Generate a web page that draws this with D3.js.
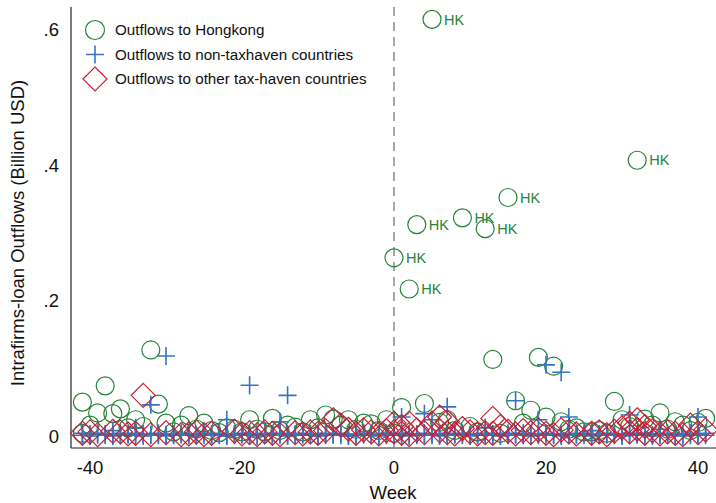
<!DOCTYPE html>
<html>
<head>
<meta charset="utf-8">
<script src="https://cdn.jsdelivr.net/npm/d3@7"></script>
<style>
  html, body { margin: 0; padding: 0; background: #fff; }
  svg { display: block; font-family: "Liberation Sans", Arial, sans-serif; }
</style>
</head>
<body>
<svg id="chart" width="716" height="503"></svg>
<script>
// Weekly intrafirm-loan outflows, [week, value in billion USD]
const hongkong = [
  [5, .615], [32, .407], [15, .352], [9, .322], [3, .312], [12, .306], [0, .263], [2, .217],
  [-41, .050], [-38, .074], [-39, .034], [-37, .033], [-36, .040], [-34, .024], [-33, .014],
  [-32, .127], [-31, .047], [-30, .019], [-28, .016], [-27, .030], [-25, .019], [-23, .005],
  [-40, .016], [-19, .024], [-16, .026], [-14, .016], [-13, .013], [-11, .024], [-9, .031],
  [-8, .025], [-6, .024], [-4, .019], [-3, .018], [-1, .024], [1, .042], [4, .048],
  [13, .113], [16, .052], [18, .038], [19, .116], [20, .028], [21, .103], [17, .019],
  [10, .014], [7, .024], [22, .021], [25, .006], [29, .051], [30, .024], [33, .025],
  [35, .034], [37, .021], [41, .026], [-35, .012], [-21, .010], [-17, .006], [-10, .012],
  [-7, .016], [-5, .010], [-2, .008], [6, .020], [8, .008], [11, .006], [14, .004],
  [23, .010], [24, .012], [26, .006], [27, .008], [31, .014], [34, .016], [36, .010],
  [38, .016], [39, .008], [40, .020], [-29, .006], [-26, .010], [-24, .008], [-22, .012],
  [-20, .006], [-18, .010], [-15, .008], [-12, .006], [28, .004], [-41, .004], [0, .004]
];

const nonTaxhaven = [
  [-30, .118], [-32, .046], [-19, .075], [-14, .060], [-15, .021], [-22, .024], [-34, .012],
  [-37, .008], [1, .028], [4, .033], [5, .024], [7, .043], [16, .052], [19, .024],
  [20, .105], [22, .094], [23, .028], [31, .031], [40, .028], [35, .010], [12, .012], [26, .008],
  [-41, .001], [-41, .004], [-40, .000], [-40, .003], [-39, .002], [-39, .004], [-38, .001],
  [-38, .003], [-37, .000], [-37, .002], [-36, .001], [-36, .004], [-35, .002], [-35, .003],
  [-34, .001], [-34, .004], [-33, .000], [-33, .003], [-32, .002], [-32, .001], [-31, .001],
  [-31, .004], [-30, .000], [-30, .002], [-29, .001], [-29, .003], [-28, .002], [-28, .004],
  [-27, .001], [-27, .003], [-26, .000], [-26, .002], [-25, .001], [-25, .004], [-24, .002],
  [-24, .003], [-23, .001], [-23, .004], [-22, .000], [-22, .002], [-21, .001], [-21, .003],
  [-20, .002], [-20, .004], [-19, .001], [-19, .003], [-18, .000], [-18, .002], [-17, .001],
  [-17, .004], [-16, .002], [-16, .003], [-15, .001], [-15, .004], [-14, .000], [-14, .002],
  [-13, .001], [-13, .003], [-12, .002], [-12, .004], [-11, .001], [-11, .003], [-10, .000],
  [-10, .002], [-9, .001], [-9, .004], [-8, .002], [-8, .003], [-7, .001], [-7, .004],
  [-6, .000], [-6, .002], [-5, .001], [-5, .003], [-4, .002], [-4, .004], [-3, .001],
  [-3, .003], [-2, .000], [-2, .002], [-1, .001], [-1, .004], [0, .002], [0, .003],
  [1, .001], [1, .004], [2, .000], [2, .002], [3, .001], [3, .003], [4, .002], [4, .004],
  [5, .001], [5, .003], [6, .000], [6, .002], [7, .001], [7, .004], [8, .002], [8, .003],
  [9, .001], [9, .004], [10, .000], [10, .002], [11, .001], [11, .003], [12, .002],
  [12, .004], [13, .001], [13, .003], [14, .000], [14, .002], [15, .001], [15, .004],
  [16, .002], [16, .003], [17, .001], [17, .004], [18, .000], [18, .002], [19, .001],
  [19, .003], [20, .002], [20, .004], [21, .001], [21, .003], [22, .000], [22, .002],
  [23, .001], [23, .004], [24, .002], [24, .003], [25, .001], [25, .004], [26, .000],
  [26, .002], [27, .001], [27, .003], [28, .002], [28, .004], [29, .001], [29, .003],
  [30, .000], [30, .002], [31, .001], [31, .004], [32, .002], [32, .003], [33, .001],
  [33, .004], [34, .000], [34, .002], [35, .001], [35, .003], [36, .002], [36, .004],
  [37, .001], [37, .003], [38, .000], [38, .002], [39, .001], [39, .004], [40, .002],
  [40, .003], [41, .001], [41, .004]
];

const otherTaxHaven = [
  [-33, .060], [-41, .004], [-40, .006], [-39, .002], [-37, .007], [-36, .006], [-35, .003],
  [-34, .004], [-32, .002], [-30, .005], [-28, .002], [-27, .003], [-26, .006], [-25, .002],
  [-24, .004], [-21, .007], [-20, .003], [-19, .005], [-18, .002], [-17, .006], [-16, .004],
  [-15, .002], [-13, .005], [-12, .003], [-11, .006], [-10, .004], [-9, .008], [-8, .024],
  [-7, .016], [-6, .010], [-5, .004], [-4, .009], [-3, .006], [-2, .003], [-1, .008],
  [0, .019], [0, .006], [1, .014], [1, .004], [2, .019], [2, .002], [3, .009], [4, .005],
  [5, .019], [6, .028], [6, .008], [7, .021], [7, .005], [8, .003], [9, .011], [10, .006],
  [11, .003], [12, .005], [13, .026], [13, .004], [14, .014], [15, .007], [16, .003],
  [17, .008], [18, .005], [19, .009], [20, .004], [21, .002], [22, .009], [23, .006],
  [24, .003], [26, .004], [27, .006], [28, .002], [29, .007], [30, .012], [31, .019],
  [31, .006], [32, .024], [32, .010], [33, .014], [33, .004], [34, .008], [35, .003],
  [36, .006], [37, .004], [38, .002], [39, .016], [40, .005], [41, .009]
];

// Points carrying an "HK" tag
const hkLabelled = [[5, .615], [32, .407], [15, .352], [9, .322], [3, .312], [12, .306], [0, .263], [2, .217]];

const xTicks = [-40, -20, 0, 20, 40];
const yTicks = [0, .2, .4, .6];
const yTickLabels = ["0", ".2", ".4", ".6"];
const legendLabels = [
  "Outflows to Hongkong",
  "Outflows to non-taxhaven countries",
  "Outflows to other tax-haven countries"
];

const GREEN = "#26843a", BLUE = "#3474c0", RED = "#c42236";

const svg = d3.select("#chart");
const x = d3.scaleLinear().domain([-40, 40]).range([90, 698]);
const y = d3.scaleLinear().domain([0, 0.6]).range([436, 29.5]);
const plotLeft = 71, plotBottom = 448, plotTop = 7, plotRight = 716;

// axis lines
svg.append("line").attr("x1", plotLeft).attr("x2", plotLeft)
  .attr("y1", plotTop).attr("y2", plotBottom).attr("stroke", "#222").attr("stroke-width", 1.2);
svg.append("line").attr("x1", plotLeft).attr("x2", plotRight)
  .attr("y1", plotBottom).attr("y2", plotBottom).attr("stroke", "#222").attr("stroke-width", 1.2);

// tick labels
svg.append("g").selectAll("text").data(yTicks).join("text")
  .attr("x", 59).attr("y", d => y(d)).attr("dy", "0.36em")
  .attr("text-anchor", "end").attr("font-size", 18.5).attr("fill", "#111")
  .text((d, i) => yTickLabels[i]);
svg.append("g").selectAll("text").data(xTicks).join("text")
  .attr("x", d => x(d)).attr("y", 473.5)
  .attr("text-anchor", "middle").attr("font-size", 18.5).attr("fill", "#111")
  .text(d => d);

// axis titles
svg.append("text").attr("x", 393).attr("y", 499).attr("text-anchor", "middle")
  .attr("font-size", 18.5).attr("fill", "#111").text("Week");
svg.append("text").attr("transform", "translate(24,233) rotate(-90)")
  .attr("text-anchor", "middle").attr("font-size", 18.5).attr("fill", "#111")
  .text("Intrafirms-loan Outflows (Billion USD)");

// event line at week 0
svg.append("line").attr("x1", x(0)).attr("x2", x(0)).attr("y1", plotTop).attr("y2", plotBottom)
  .attr("stroke", "#8a8a8a").attr("stroke-width", 1.5).attr("stroke-dasharray", "9,6");

const R = 9, P = 9, D = 12;
const plusPath = `M${-P},0H${P}M0,${-P}V${P}`;
const diamondPath = `M0,${-D}L${D},0L0,${D}L${-D},0Z`;

svg.append("g").selectAll("circle").data(hongkong).join("circle")
  .attr("cx", d => x(d[0])).attr("cy", d => y(d[1])).attr("r", R)
  .attr("fill", "none").attr("stroke", GREEN).attr("stroke-width", 1.2);

svg.append("g").selectAll("path").data(nonTaxhaven).join("path")
  .attr("transform", d => `translate(${x(d[0])},${y(d[1])})`)
  .attr("d", plusPath).attr("fill", "none").attr("stroke", BLUE).attr("stroke-width", 1.6);

svg.append("g").selectAll("path").data(otherTaxHaven).join("path")
  .attr("transform", d => `translate(${x(d[0])},${y(d[1])})`)
  .attr("d", diamondPath).attr("fill", "none").attr("stroke", RED).attr("stroke-width", 1.2);

svg.append("g").selectAll("text").data(hkLabelled).join("text")
  .attr("x", d => x(d[0]) + 12).attr("y", d => y(d[1])).attr("dy", "0.36em")
  .attr("font-size", 14.5).attr("fill", GREEN).text("HK");

// legend
const lg = svg.append("g");
const rows = [30, 54.5, 79];
lg.append("circle").attr("cx", 95).attr("cy", rows[0]).attr("r", 9.5)
  .attr("fill", "none").attr("stroke", GREEN).attr("stroke-width", 1.2);
lg.append("path").attr("transform", `translate(95,${rows[1]})`).attr("d", plusPath)
  .attr("fill", "none").attr("stroke", BLUE).attr("stroke-width", 1.6);
lg.append("path").attr("transform", `translate(95,${rows[2]})`).attr("d", diamondPath)
  .attr("fill", "none").attr("stroke", RED).attr("stroke-width", 1.2);
lg.selectAll("text").data(legendLabels).join("text")
  .attr("x", 115).attr("y", (d, i) => rows[i]).attr("dy", "0.36em")
  .attr("font-size", 15.2).attr("fill", "#111").text(d => d);
</script>
</body>
</html>
